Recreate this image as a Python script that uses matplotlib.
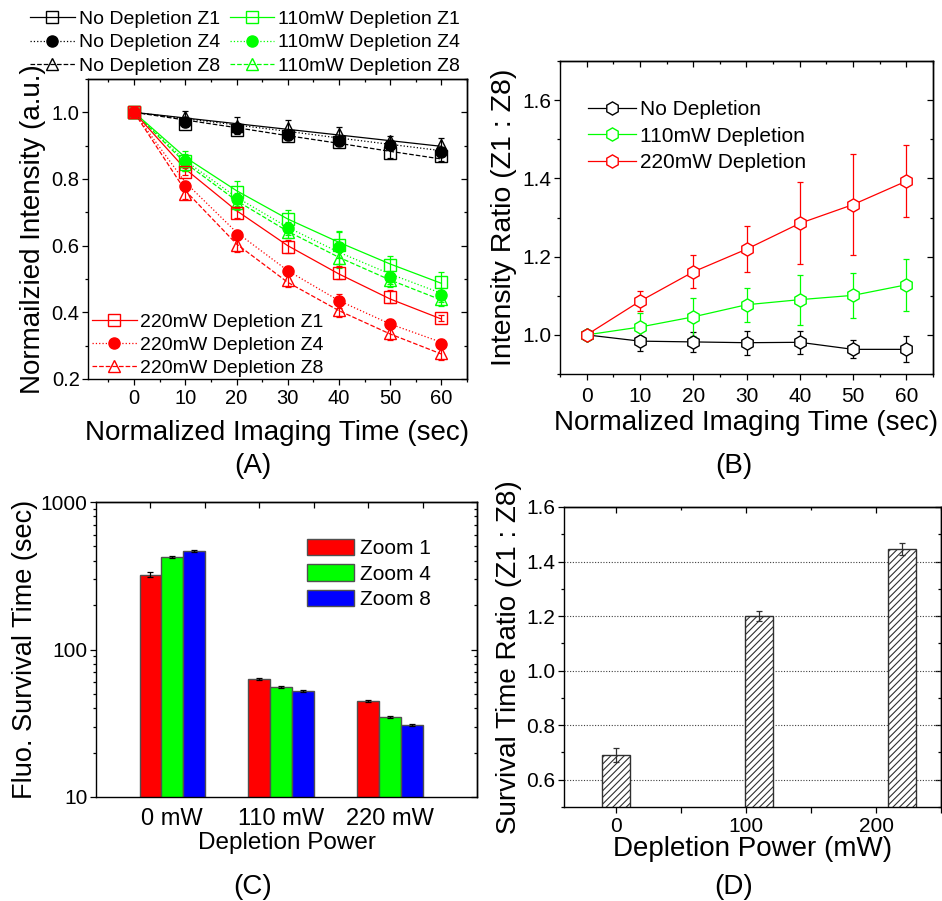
import matplotlib
matplotlib.use('Agg')
import matplotlib.pyplot as plt
from matplotlib.lines import Line2D
from matplotlib.ticker import FixedLocator, NullFormatter, FixedFormatter, LogLocator
import numpy as np

plt.rcParams['font.family'] = ['Liberation Sans', 'DejaVu Sans']
plt.rcParams['hatch.linewidth'] = 0.8
plt.rcParams['axes.linewidth'] = 1.0

# ---------------- Data: panel A ----------------
time_pts = [0, 10, 20, 30, 40, 50, 60]
# markers (measured)
noDep_Z1 = [1.0, 0.965, 0.947, 0.928, 0.910, 0.877, 0.868]
noDep_Z4 = [1.0, 0.972, 0.953, 0.933, 0.915, 0.902, 0.882]
noDep_Z8 = [1.0, 0.985, 0.960, 0.953, 0.935, 0.915, 0.902]
d110_Z1 = [1.0, 0.855, 0.762, 0.679, 0.602, 0.542, 0.492]
d110_Z4 = [1.0, 0.855, 0.739, 0.652, 0.595, 0.505, 0.452]
d110_Z8 = [1.0, 0.845, 0.727, 0.642, 0.562, 0.497, 0.439]
d220_Z1 = [1.0, 0.822, 0.697, 0.597, 0.519, 0.447, 0.383]
d220_Z4 = [1.0, 0.778, 0.632, 0.524, 0.434, 0.365, 0.305]
d220_Z8 = [1.0, 0.755, 0.602, 0.497, 0.407, 0.337, 0.277]
# error bars
noDep_Z1_err = [0, 0.010, 0.010, 0.010, 0.010, 0.015, 0.015]
noDep_Z4_err = [0, 0.010, 0.010, 0.010, 0.010, 0.010, 0.010]
noDep_Z8_err = [0, 0.020, 0.025, 0.024, 0.020, 0.015, 0.020]
d110_Z1_err = [0, 0.030, 0.033, 0.028, 0.040, 0.028, 0.028]
d110_Z4_err = [0, 0.020, 0.020, 0.020, 0.050, 0.020, 0.020]
d110_Z8_err = [0, 0.020, 0.020, 0.020, 0.030, 0.020, 0.020]
d220_Z1_err = [0, 0.010, 0.015, 0.020, 0.020, 0.020, 0.010]
d220_Z4_err = [0, 0.015, 0.015, 0.015, 0.020, 0.015, 0.015]
d220_Z8_err = [0, 0.015, 0.020, 0.020, 0.020, 0.020, 0.020]
# fitted decay curves
fit_noDep_solid = [1.0, 0.983, 0.966, 0.949, 0.932, 0.915, 0.898]
fit_noDep_dot = [1.0, 0.981, 0.962, 0.943, 0.923, 0.904, 0.885]
fit_noDep_dash = [1.0, 0.977, 0.954, 0.930, 0.907, 0.883, 0.860]
fit_110_solid = [1.0, 0.865, 0.765, 0.680, 0.610, 0.545, 0.487]
fit_110_dot = [1.0, 0.855, 0.745, 0.655, 0.580, 0.515, 0.457]
fit_110_dash = [1.0, 0.848, 0.735, 0.643, 0.565, 0.497, 0.437]
fit_220_solid = [1.0, 0.830, 0.705, 0.600, 0.515, 0.440, 0.380]
fit_220_dot = [1.0, 0.790, 0.640, 0.525, 0.435, 0.365, 0.310]
fit_220_dash = [1.0, 0.765, 0.605, 0.490, 0.405, 0.335, 0.275]

# ---------------- Data: panel B ----------------
ratio_noDep = [1.0, 0.984, 0.982, 0.980, 0.981, 0.963, 0.963]
ratio_noDep_err = [0.0, 0.025, 0.025, 0.031, 0.030, 0.023, 0.033]
ratio_110 = [1.0, 1.020, 1.046, 1.077, 1.090, 1.101, 1.128]
ratio_110_err = [0.0, 0.036, 0.049, 0.043, 0.064, 0.057, 0.067]
ratio_220 = [1.0, 1.086, 1.161, 1.219, 1.285, 1.333, 1.393]
ratio_220_err = [0.008, 0.025, 0.042, 0.058, 0.105, 0.129, 0.092]

# ---------------- Data: panel C ----------------
power_labels = ['0 mW', '110 mW', '220 mW']
zoom1_surv = [321, 62.8, 44.8]
zoom4_surv = [424, 55.7, 34.7]
zoom8_surv = [465, 52.6, 30.9]
zoom1_err = [12, 1.0, 0.7]
zoom4_err = [5, 0.7, 0.5]
zoom8_err = [6, 0.7, 0.5]

# ---------------- Data: panel D ----------------
power_mw = [0, 110, 220]
surv_ratio = [0.690, 1.199, 1.447]
surv_ratio_err = [0.026, 0.018, 0.022]

GREEN = '#00ff00'
RED = '#ff0000'
BLUE = '#0000ff'

W, H = 942, 901
fig = plt.figure(figsize=(W / 100, H / 100), dpi=100)


def ax_at(l, t, r, b):
    return fig.add_axes([l / W, 1 - b / H, (r - l) / W, (b - t) / H])


def mirror(ax, xmaj, xmin, ymaj, ymin):
    ax.tick_params(which='both', direction='out', top=False, right=False)
    ax.tick_params(which='major', length=4, width=0.9)
    ax.tick_params(which='minor', length=2.5, width=0.9)
    sx = ax.secondary_xaxis('top')
    sx.xaxis.set_major_locator(FixedLocator(xmaj))
    sx.xaxis.set_minor_locator(FixedLocator(xmin))
    sx.xaxis.set_major_formatter(NullFormatter())
    sx.xaxis.set_minor_formatter(NullFormatter())
    sx.tick_params(which='both', direction='in')
    sx.tick_params(which='major', length=4, width=0.9)
    sx.tick_params(which='minor', length=2.5, width=0.9)
    sy = ax.secondary_yaxis('right')
    sy.yaxis.set_major_locator(FixedLocator(ymaj))
    sy.yaxis.set_minor_locator(FixedLocator(ymin))
    sy.yaxis.set_major_formatter(NullFormatter())
    sy.yaxis.set_minor_formatter(NullFormatter())
    sy.tick_params(which='both', direction='in')
    sy.tick_params(which='major', length=4, width=0.9)
    sy.tick_params(which='minor', length=2.5, width=0.9)
    return sx, sy


# ================= Panel A =================
axA = ax_at(88, 79, 467, 379)
seriesA = [
    (noDep_Z1, noDep_Z1_err, 'black', 's', 'none', '-', 'No Depletion Z1'),
    (noDep_Z4, noDep_Z4_err, 'black', 'o', 'black', ':', 'No Depletion Z4'),
    (noDep_Z8, noDep_Z8_err, 'black', '^', 'none', '--', 'No Depletion Z8'),
    (d110_Z1, d110_Z1_err, GREEN, 's', 'none', '-', '110mW Depletion Z1'),
    (d110_Z4, d110_Z4_err, GREEN, 'o', GREEN, ':', '110mW Depletion Z4'),
    (d110_Z8, d110_Z8_err, GREEN, '^', 'none', '--', '110mW Depletion Z8'),
    (d220_Z1, d220_Z1_err, RED, 's', 'none', '-', '220mW Depletion Z1'),
    (d220_Z4, d220_Z4_err, RED, 'o', RED, ':', '220mW Depletion Z4'),
    (d220_Z8, d220_Z8_err, RED, '^', 'none', '--', '220mW Depletion Z8'),
]
fitsA = [
    (fit_noDep_solid, 'black', '-'), (fit_noDep_dot, 'black', ':'), (fit_noDep_dash, 'black', '--'),
    (fit_110_solid, GREEN, '-'), (fit_110_dot, GREEN, ':'), (fit_110_dash, GREEN, '--'),
    (fit_220_solid, RED, '-'), (fit_220_dot, RED, ':'), (fit_220_dash, RED, '--'),
]
for vals, col, ls in fitsA:
    axA.plot(time_pts, vals, color=col, ls=ls, lw=0.9, zorder=2)
handlesA = []
for vals, err, col, mk, mfc, ls, lab in seriesA:
    axA.errorbar(time_pts, vals, yerr=err, fmt='none', ecolor=col, elinewidth=0.9,
                 capsize=2.5, capthick=0.9, zorder=3)
    ms = 8.5 if mk == '^' else 8
    axA.plot(time_pts, vals, ls='none', marker=mk, ms=ms, mfc=mfc, mec=col, mew=1.0, zorder=4)
    handlesA.append(Line2D([], [], color=col, ls=ls, lw=0.9, marker=mk, ms=ms,
                           mfc=mfc, mec=col, mew=1.0, label=lab))
axA.set_xlim(-9, 65)
axA.set_ylim(0.2, 1.1)
axA.xaxis.set_major_locator(FixedLocator([0, 10, 20, 30, 40, 50, 60]))
axA.xaxis.set_minor_locator(FixedLocator([-5, 5, 15, 25, 35, 45, 55, 65]))
axA.yaxis.set_major_locator(FixedLocator([0.2, 0.4, 0.6, 0.8, 1.0]))
axA.yaxis.set_minor_locator(FixedLocator([0.3, 0.5, 0.7, 0.9, 1.1]))
axA.yaxis.set_major_formatter(FixedFormatter(['0.2', '0.4', '0.6', '0.8', '1.0']))
mirror(axA, [0, 10, 20, 30, 40, 50, 60], [-5, 5, 15, 25, 35, 45, 55, 65],
       [0.2, 0.4, 0.6, 0.8, 1.0], [0.3, 0.5, 0.7, 0.9, 1.1])
axA.tick_params(labelsize=14.5)
axA.tick_params(axis='x', pad=3.5)
axA.tick_params(axis='y', pad=2)
axA.set_xlabel('Normalized Imaging Time (sec)', fontsize=20, labelpad=8)
axA.set_ylabel('Normailzied Intensity (a.u.)', fontsize=20, labelpad=4)
fig.legend(handles=handlesA[:6], loc='upper left', bbox_to_anchor=(30 / W, 1 - 10 / H),
           ncol=2, frameon=False, fontsize=14, handlelength=2.3, handletextpad=0.2,
           columnspacing=0.5, labelspacing=0.32, borderpad=0, borderaxespad=0)
axA.legend(handles=handlesA[6:], loc='lower left', bbox_to_anchor=(0.005, 0.0),
           frameon=False, fontsize=14, handlelength=2.3, handletextpad=0.2,
           labelspacing=0.28, borderpad=0, borderaxespad=0.1)

# ================= Panel B =================
axB = ax_at(560, 61, 933, 374)
seriesB = [
    (ratio_noDep, ratio_noDep_err, 'black', 'No Depletion'),
    (ratio_110, ratio_110_err, GREEN, '110mW Depletion'),
    (ratio_220, ratio_220_err, RED, '220mW Depletion'),
]
handlesB = []
for vals, err, col, lab in seriesB:
    axB.errorbar(time_pts, vals, yerr=err, fmt='none', ecolor=col, elinewidth=0.9,
                 capsize=2.5, capthick=0.9, zorder=3)
    axB.plot(time_pts, vals, color=col, lw=0.9, marker='h', ms=9.5, mfc='white', mec=col,
             mew=1.0, zorder=4)
    handlesB.append(Line2D([], [], color=col, lw=0.9, marker='h', ms=9.5, mfc='white',
                           mec=col, mew=1.0, label=lab))
axB.set_xlim(-5, 65)
axB.set_ylim(0.9, 1.7)
axB.xaxis.set_major_locator(FixedLocator([0, 10, 20, 30, 40, 50, 60]))
axB.xaxis.set_minor_locator(FixedLocator([-5, 5, 15, 25, 35, 45, 55, 65]))
axB.yaxis.set_major_locator(FixedLocator([1.0, 1.2, 1.4, 1.6]))
axB.yaxis.set_minor_locator(FixedLocator([0.9, 1.1, 1.3, 1.5, 1.7]))
axB.yaxis.set_major_formatter(FixedFormatter(['1.0', '1.2', '1.4', '1.6']))
mirror(axB, [0, 10, 20, 30, 40, 50, 60], [-5, 5, 15, 25, 35, 45, 55, 65],
       [1.0, 1.2, 1.4, 1.6], [0.9, 1.1, 1.3, 1.5, 1.7])
axB.tick_params(labelsize=15)
axB.tick_params(axis='x', pad=5)
axB.tick_params(axis='y', pad=2)
axB.set_xlabel('Normalized Imaging Time (sec)', fontsize=20, labelpad=3)
axB.set_ylabel('Intensity Ratio (Z1 : Z8)', fontsize=20.5, labelpad=4)
axB.legend(handles=handlesB, loc='upper left', bbox_to_anchor=(0.075, 0.875),
           frameon=False, fontsize=15, handlelength=2.3, handletextpad=0.2,
           labelspacing=0.36, borderpad=0, borderaxespad=0)

# ================= Panel C =================
axC = ax_at(96, 502, 477, 797)
xc = np.arange(1, len(power_labels) + 1)
bw = 0.2
for off, vals, err, col, lab in [(-bw, zoom1_surv, zoom1_err, RED, 'Zoom 1'),
                                 (0, zoom4_surv, zoom4_err, GREEN, 'Zoom 4'),
                                 (bw, zoom8_surv, zoom8_err, BLUE, 'Zoom 8')]:
    axC.bar(xc + off, vals, width=bw, color=col, edgecolor='#505050', linewidth=1.0,
            label=lab, zorder=2)
    axC.errorbar(xc + off, vals, yerr=err, fmt='none', ecolor='black', elinewidth=0.9,
                 capsize=2.5, capthick=0.9, zorder=3)
axC.set_yscale('log')
axC.set_xlim(0.3, 3.8)
axC.set_ylim(10, 1000)
axC.set_xticks(xc)
axC.set_xticklabels(power_labels)
axC.tick_params(axis='x', which='both', length=0, labelsize=17, pad=8)
axC.yaxis.set_major_locator(FixedLocator([10, 100, 1000]))
axC.yaxis.set_major_formatter(FixedFormatter(['10', '100', '1000']))
axC.yaxis.set_minor_locator(LogLocator(base=10, subs=np.arange(2, 10)))
axC.yaxis.set_minor_formatter(NullFormatter())
axC.tick_params(axis='y', which='both', direction='out', right=False, labelsize=15, pad=2)
axC.tick_params(axis='y', which='major', length=4, width=0.9)
axC.tick_params(axis='y', which='minor', length=2.5, width=0.9)
sxC = axC.secondary_xaxis('top')
sxC.xaxis.set_major_locator(FixedLocator(list(xc - bw)))
sxC.xaxis.set_minor_locator(FixedLocator(list(xc - bw + 0.5)))
sxC.xaxis.set_major_formatter(NullFormatter())
sxC.tick_params(which='both', direction='in', length=4, width=0.9)
syC = axC.secondary_yaxis('right')
syC.yaxis.set_major_locator(FixedLocator([10, 100, 1000]))
syC.yaxis.set_minor_locator(LogLocator(base=10, subs=np.arange(2, 10)))
syC.yaxis.set_major_formatter(NullFormatter())
syC.yaxis.set_minor_formatter(NullFormatter())
syC.tick_params(which='both', direction='in', width=0.9)
syC.tick_params(which='major', length=4)
syC.tick_params(which='minor', length=2.5)
axC.set_xlabel('Depletion Power', fontsize=17.5, labelpad=1)
axC.set_ylabel('Fluo. Survival Time (sec)', fontsize=19.5, labelpad=2)
axC.legend(loc='upper left', bbox_to_anchor=(0.553, 0.875), frameon=False, fontsize=15,
           handlelength=2.26, handleheight=0.82, handletextpad=0.3, labelspacing=0.3,
           borderpad=0, borderaxespad=0)

# ================= Panel D =================
axD = ax_at(564, 507, 941, 807)
axD.bar(power_mw, surv_ratio, width=22, color='white', edgecolor='#303030', hatch='/////',
        linewidth=1.0, zorder=2)
axD.errorbar(power_mw, surv_ratio, yerr=surv_ratio_err, fmt='none', ecolor='#303030',
             elinewidth=0.9, capsize=2.5, capthick=0.9, zorder=3)
axD.set_xlim(-40, 250)
axD.set_ylim(0.5, 1.6)
axD.xaxis.set_major_locator(FixedLocator([0, 100, 200]))
axD.xaxis.set_minor_locator(FixedLocator([50, 150, 250]))
axD.yaxis.set_major_locator(FixedLocator([0.6, 0.8, 1.0, 1.2, 1.4, 1.6]))
axD.yaxis.set_minor_locator(FixedLocator([0.5, 0.7, 0.9, 1.1, 1.3, 1.5]))
axD.yaxis.set_major_formatter(FixedFormatter(['0.6', '0.8', '1.0', '1.2', '1.4', '1.6']))
mirror(axD, [0, 100, 200], [50, 150, 250], [0.6, 0.8, 1.0, 1.2, 1.4, 1.6],
       [0.5, 0.7, 0.9, 1.1, 1.3, 1.5])
axD.tick_params(axis='x', which='minor', length=4)
axD.tick_params(labelsize=15)
axD.tick_params(axis='x', pad=3)
axD.tick_params(axis='y', pad=2)
for yv in [0.6, 0.8, 1.0, 1.2, 1.4]:
    axD.axhline(yv, color='#404040', ls=(0, (1, 1.5)), lw=0.8, zorder=1)
axD.set_xlabel('Depletion Power (mW)', fontsize=20, labelpad=0)
axD.set_ylabel('Survival Time Ratio (Z1 : Z8)', fontsize=20, labelpad=3)

# ================= Panel tags =================
for txt, xp, yp in [('(A)', 253, 466), ('(B)', 734, 466), ('(C)', 253, 887), ('(D)', 734, 887)]:
    fig.text(xp / W, 1 - yp / H, txt, fontsize=20, ha='center', va='center')

fig.savefig('out.png', dpi=100)
